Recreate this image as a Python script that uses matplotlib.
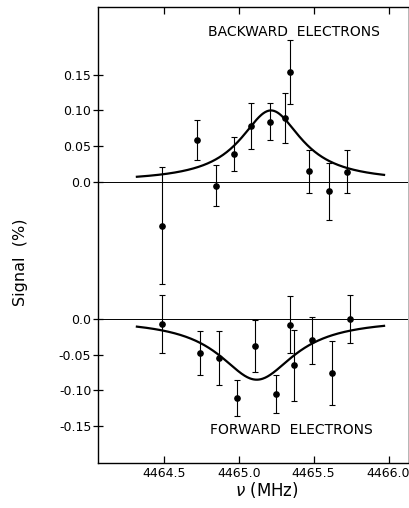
import matplotlib.pyplot as plt
import matplotlib.transforms as mtransforms
import numpy as np

plt.rcParams["font.family"] = ["DejaVu Sans"]

# backward electrons (upper trace)
bw_freq = [4464.49, 4464.72, 4464.85, 4464.97, 4465.08, 4465.21,
           4465.31, 4465.34, 4465.47, 4465.60, 4465.72]
bw_signal = [-0.061, 0.059, -0.005, 0.039, 0.078, 0.084,
             0.090, 0.154, 0.015, -0.013, 0.014]
bw_err = [0.082, 0.028, 0.028, 0.024, 0.032, 0.026,
          0.035, 0.045, 0.030, 0.040, 0.030]

# forward electrons (lower trace)
fw_freq = [4464.49, 4464.74, 4464.87, 4464.99, 4465.11, 4465.25,
           4465.34, 4465.37, 4465.49, 4465.62, 4465.74]
fw_signal = [-0.007, -0.048, -0.055, -0.111, -0.038, -0.105,
             -0.008, -0.065, -0.030, -0.076, 0.000]
fw_err = [0.041, 0.031, 0.038, 0.025, 0.036, 0.027,
          0.040, 0.050, 0.033, 0.045, 0.033]

# Lorentzian fit parameters: centre (MHz), half width (MHz), amplitude (%)
bw_fit = (4465.215, 0.25, 0.100)
fw_fit = (4465.12, 0.305, -0.085)
fit_range = (4464.32, 4465.97)

y_ticks = [0.15, 0.10, 0.05, 0.0]
y_ticks_fw = [0.0, -0.05, -0.10, -0.15]
x_ticks = [4464.5, 4465.0, 4465.5, 4466.0]

# the backward trace is shifted up so both share one axis
offset = 0.1916


def lorentz(x, centre, hw, amp):
    return amp * hw**2 / ((x - centre) ** 2 + hw**2)


fig = plt.figure(figsize=(4.09, 5.08), dpi=100)
ax = fig.add_axes([0.2384, 0.0886, 0.7592, 0.8971])

ax.axhline(offset, color="black", lw=0.7)
ax.axhline(0.0, color="black", lw=0.7)

ax.errorbar(bw_freq, np.array(bw_signal) + offset, yerr=bw_err, fmt="o",
            color="black", ms=3.8, elinewidth=0.8, capsize=2.2, capthick=0.8)
ax.errorbar(fw_freq, fw_signal, yerr=fw_err, fmt="o",
            color="black", ms=3.8, elinewidth=0.8, capsize=2.2, capthick=0.8)

xs = np.linspace(fit_range[0], fit_range[1], 400)
ax.plot(xs, lorentz(xs, *bw_fit) + offset, color="black", lw=1.6)
ax.plot(xs, lorentz(xs, *fw_fit), color="black", lw=1.6)

ax.text(4465.37, 0.401, "BACKWARD  ELECTRONS", ha="center", va="center",
        fontsize=10)
ax.text(4465.35, -0.156, "FORWARD  ELECTRONS", ha="center", va="center",
        fontsize=10)

ax.set_xlim(4464.057, 4466.13)
ax.set_ylim(-0.2015, 0.4359)

yt = [v + offset for v in y_ticks] + y_ticks_fw
yl = ["0.15", "0.10", "0.05", "0.0", "0.0", "-0.05", "-0.10", "-0.15"]
ax.set_yticks(yt)
ax.set_yticklabels(yl, fontsize=9)
ax.set_xticks(x_ticks)
ax.set_xticklabels(["4464.5", "4465.0", "4465.5", "4466.0"], fontsize=9)

# frequency labels sit slightly left of their ticks
shift = mtransforms.ScaledTranslation(-0.045, 0, fig.dpi_scale_trans)
for lab in ax.get_xticklabels():
    lab.set_transform(lab.get_transform() + shift)

ax.tick_params(axis="y", direction="inout", length=7, width=0.9, pad=1)
ax.tick_params(axis="x", direction="in", length=5, width=0.9, pad=3,
               top=True)

for s in ax.spines.values():
    s.set_linewidth(1.0)
ax.spines["right"].set_linewidth(0.5)
ax.spines["right"].set_color("#999999")

fig.text(0.653, 0.016, r"$\nu$ (MHz)", ha="center", va="bottom", fontsize=12)
fig.text(0.05, 0.484, "Signal  (%)", rotation=90, ha="center", va="center",
         fontsize=11.5)

fig.savefig("out.png", dpi=100)
